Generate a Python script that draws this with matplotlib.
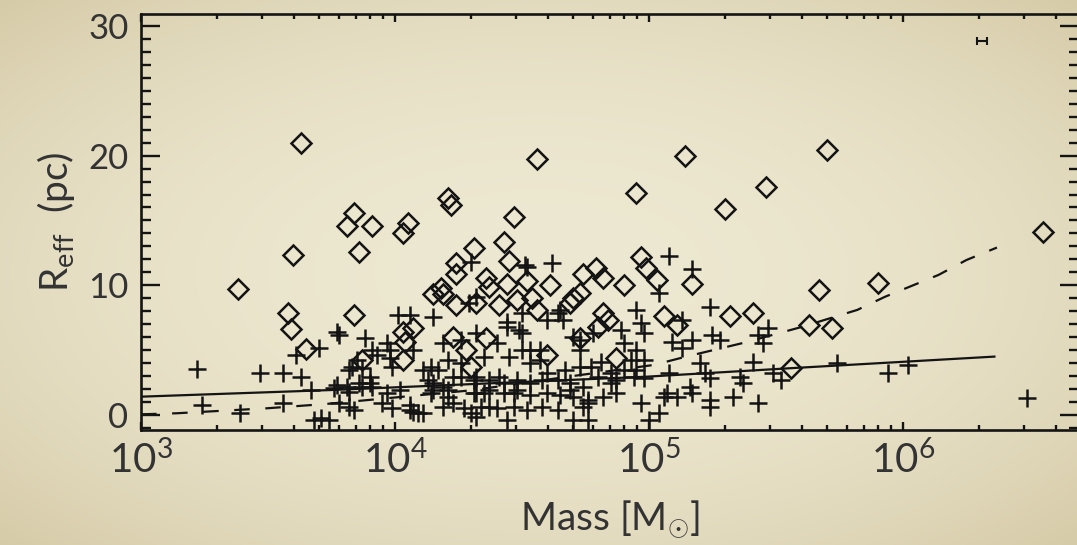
import numpy as np
import matplotlib
matplotlib.use("Agg")
import matplotlib.pyplot as plt
from matplotlib.ticker import FixedLocator, LogLocator, MultipleLocator, NullFormatter, FixedFormatter

# ---------------- data (log10 mass [Msun], effective radius [pc]) ----------------
diamond_logm = [3.63, 3.84, 3.81, 3.91, 3.60, 4.05, 4.03, 3.38, 4.56, 5.14,
                4.21, 4.22, 4.95, 4.47, 4.43, 4.31, 4.24, 4.24, 4.45, 4.36,
                4.52, 4.44, 4.61, 4.74, 4.79, 4.82, 4.97, 4.99, 5.03, 4.90,
                5.17, 4.18, 3.58, 3.59, 3.65, 3.84, 4.03, 4.07, 4.04, 3.87,
                4.03, 4.15, 4.19, 4.24, 4.32, 4.23, 4.28, 4.30, 4.37, 4.41,
                4.48, 4.54, 4.56, 4.70, 4.73, 4.82, 4.84, 4.73, 4.87, 4.60,
                5.06, 5.11, 5.32, 5.41, 5.67, 5.90, 5.63, 5.72, 5.56, 5.70,
                5.46, 5.30, 6.55, 4.69, 4.80, 4.36, 3.86]
diamond_reff = [21.0, 15.6, 14.6, 14.6, 12.3, 14.8, 14.0, 9.7, 19.7, 20.0,
                16.7, 16.2, 17.1, 15.3, 13.3, 12.9, 11.7, 10.9, 11.9, 10.6,
                10.3, 10.1, 10.0, 10.9, 11.3, 10.6, 12.2, 11.3, 10.4, 10.0,
                10.1, 9.8, 7.9, 6.6, 5.1, 7.7, 6.4, 6.7, 5.6, 4.2,
                4.2, 9.3, 9.3, 8.5, 8.6, 6.0, 5.0, 3.7, 9.9, 8.5,
                8.9, 9.0, 8.1, 9.0, 9.4, 7.9, 7.3, 5.9, 4.4, 4.6,
                7.6, 6.9, 7.6, 7.9, 9.6, 10.2, 6.9, 6.7, 3.6, 20.4,
                17.6, 15.9, 14.1, 8.6, 6.8, 5.9, 12.6]

plus_logm = [3.22, 3.47, 3.56, 3.63, 3.67, 3.61, 3.70, 3.77, 3.78, 3.24,
             3.39, 3.56, 3.68, 3.71, 3.74, 3.76, 3.88, 3.97, 4.01, 4.06,
             4.15, 4.07, 3.91, 3.98, 3.99, 3.82, 3.81, 3.86, 3.90, 3.95,
             3.78, 3.84, 4.06, 4.09, 4.15, 4.19, 4.21, 4.23, 4.26, 4.29,
             4.31, 4.35, 4.37, 4.41, 4.44, 4.47, 4.50, 4.52, 4.53, 4.57,
             4.60, 4.62, 4.60, 4.64, 4.67, 4.69, 4.70, 4.73, 4.76, 4.80,
             4.78, 3.93, 3.98, 3.83, 3.85, 3.87, 3.90, 3.77, 3.82, 3.87,
             3.91, 3.97, 4.02, 3.82, 3.99, 4.06, 4.07, 4.11, 4.11, 4.14,
             4.17, 4.21, 4.13, 4.15, 4.19, 4.14, 4.21, 4.23, 4.27, 4.30,
             4.31, 4.26, 4.19, 4.26, 4.32, 4.32, 4.50, 4.49, 4.65, 4.66,
             4.44, 4.40, 4.35, 4.45, 4.50, 4.53, 4.57, 4.70, 4.73, 4.73,
             4.77, 4.81, 4.85, 4.32, 4.37, 4.43, 4.48, 4.53, 4.58, 4.64,
             4.69, 4.74, 4.85, 4.32, 4.37, 4.43, 4.48, 4.53, 4.60, 4.65,
             4.70, 4.76, 4.82, 4.87, 4.34, 4.40, 4.47, 4.52, 4.58, 4.64,
             4.74, 4.76, 4.32, 4.44, 5.04, 5.24, 5.13, 4.95, 4.97, 4.89,
             4.98, 4.90, 5.09, 5.13, 5.17, 5.25, 5.28, 5.43, 5.41, 4.95,
             4.93, 4.98, 4.95, 4.90, 4.87, 4.94, 4.98, 5.08, 5.20, 5.22,
             5.24, 5.36, 5.37, 5.16, 5.07, 5.06, 5.11, 5.17, 5.24, 5.33,
             5.43, 4.97, 5.24, 5.04, 5.00, 5.47, 5.45, 5.49, 5.52, 5.74,
             5.94, 6.02, 6.49, 4.30, 4.51, 5.08, 5.17]
plus_reff = [3.55, 3.24, 3.24, 2.93, 1.93, 4.63, 5.17, 6.40, 6.17, 0.77,
             0.15, 0.93, -0.39, -0.23, -0.39, 2.08, 5.94, 5.55, 7.71, 7.71,
             7.56, 5.01, 5.01, 5.01, 3.70, 3.47, 2.16, 2.47, 2.47, 0.93,
             0.93, 0.39, 0.39, 0.15, 1.93, 0.62, 1.93, 2.93, 4.01, 8.64,
             1.70, 1.70, 0.62, 2.93, 6.78, 1.70, 6.32, 11.41, 5.01, 4.24,
             3.24, 11.72, 7.32, 7.86, 3.47, 1.93, -0.39, 5.01, 0.93, 2.93,
             6.32, 4.63, 4.39, 3.70, 4.24, 3.62, 2.93, 2.31, 1.77, 2.16,
             2.16, 1.70, 1.93, 0.62, 0.54, 0.77, 0.23, 0.15, 3.47, 3.70,
             3.47, 4.24, 2.70, 2.47, 2.16, 1.70, 1.39, 0.93, 0.54, 0.15,
             2.70, 2.93, 5.55, 5.78, 6.32, 9.10, 7.86, 6.55, 8.10, 7.32,
             7.17, 5.55, 4.47, 4.47, 5.01, 4.01, 5.01, 6.01, 5.78, 3.70,
             3.70, 4.09, 3.24, 2.93, 2.70, 2.47, 2.70, 2.47, 2.70, 2.70,
             2.47, 2.16, 2.47, 1.70, 1.93, 1.70, 1.93, 1.54, 1.70, 1.54,
             1.39, 1.16, 1.39, 1.70, 0.62, 0.54, 0.62, 0.39, 0.62, 0.39,
             0.62, -0.39, -0.15, -0.39, 9.41, 8.33, 7.32, 8.10, 7.09, 6.55,
             6.32, 5.55, 5.63, 5.17, 5.78, 6.17, 5.78, 6.17, 4.09, 5.01,
             4.24, 4.24, 3.47, 3.47, 2.70, 2.93, 2.85, 3.24, 4.01, 3.24,
             2.85, 2.93, 2.47, 2.16, 1.70, 1.39, 1.39, 1.70, 1.16, 1.39,
             0.93, 0.93, 0.62, 0.15, -0.39, 6.71, 5.55, 3.24, 2.70, 4.01,
             3.24, 3.86, 1.31, 11.80, 11.57, 12.26, 11.26]

# fitted relations
solid_fit_logm = [3.00, 3.76, 4.99, 5.57, 6.36]
solid_fit_reff = [1.41, 1.93, 2.95, 3.62, 4.50]
dashed_fit_logm = [3.00, 3.14, 3.50, 3.73, 4.30, 4.70, 5.02, 5.14, 5.37, 5.60,
                   5.82, 5.93, 6.14, 6.25, 6.37]
dashed_fit_reff = [0.05, 0.13, 0.52, 0.85, 1.90, 3.00, 3.86, 4.47, 5.55, 6.78,
                   8.10, 9.12, 10.80, 11.95, 12.91]

# typical error bar
errbar_logm = 6.31
errbar_reff = 28.8
errbar_dex = 0.02

xtick_exponents = [3, 4, 5, 6]
ytick_values = [0, 10, 20, 30]

# ---------------- style ----------------
plt.rcParams['font.family'] = ['Lato', 'DejaVu Sans']
plt.rcParams['mathtext.fontset'] = 'custom'
plt.rcParams['mathtext.rm'] = 'Lato'
plt.rcParams['mathtext.it'] = 'Lato:italic'
plt.rcParams['mathtext.bf'] = 'Lato:bold'
plt.rcParams['mathtext.sf'] = 'Lato'

W, H = 1077, 545
fig = plt.figure(figsize=(W / 100, H / 100), dpi=100)

# beige background with vignette (drawn in a background axes)
yy, xx = np.mgrid[0:H, 0:W]
r = np.sqrt(((xx - W / 2) / (W / 2)) ** 2 + ((yy - H / 2) / (H / 2)) ** 2) / np.sqrt(2)
w = np.clip(r, 0, 1) ** 2.2
c0 = np.array([237, 232, 209]) / 255.0
c1 = np.array([214, 203, 168]) / 255.0
bg = c0[None, None, :] * (1 - w[..., None]) + c1[None, None, :] * w[..., None]
bg_ax = fig.add_axes([0, 0, 1, 1], zorder=0)
bg_ax.imshow(bg, aspect='auto', interpolation='bilinear')
bg_ax.set_axis_off()

ink = '#141414'
txt = '#333333'

ax = fig.add_axes([141 / W, 115 / H, 938 / W, 416 / H], zorder=1)
ax.set_facecolor('none')
ax.set_xscale('log')
ax.set_xlim(1e3, 10 ** 6.693)
ax.set_ylim(-1.16, 30.92)

ax.plot(10 ** np.array(plus_logm), plus_reff, linestyle='none', marker='+',
        ms=13.5, mew=1.8, color=ink, zorder=3)
ax.plot(10 ** np.array(diamond_logm), diamond_reff, linestyle='none', marker='D',
        ms=10.3, mfc='none', mec=ink, mew=1.8, zorder=3)

ax.plot(10 ** np.array(solid_fit_logm), solid_fit_reff, color=ink, lw=1.6, zorder=4)
ax.plot(10 ** np.array(dashed_fit_logm), dashed_fit_reff, color=ink, lw=1.6,
        dashes=(7, 7), zorder=4)

m0 = 10 ** errbar_logm
ax.errorbar([m0], [errbar_reff],
            xerr=[[m0 - m0 * 10 ** (-errbar_dex)], [m0 * 10 ** errbar_dex - m0]],
            fmt='none', ecolor=ink, elinewidth=1.5, capsize=3, capthick=1.5, zorder=4)

# ticks
ax.xaxis.set_major_locator(FixedLocator([10.0 ** e for e in xtick_exponents]))
ax.xaxis.set_major_formatter(FixedFormatter([r'$\mathregular{10^{%d}}$' % e for e in xtick_exponents]))
ax.xaxis.set_minor_locator(LogLocator(base=10, subs=np.arange(2, 10), numticks=20))
ax.xaxis.set_minor_formatter(NullFormatter())
ax.yaxis.set_major_locator(FixedLocator(ytick_values))
ax.yaxis.set_minor_locator(MultipleLocator(1))

ax.tick_params(which='both', direction='in', top=True, right=True, width=1.7, color=ink)
ax.tick_params(axis='y', which='major', length=13.5, labelsize=25, pad=9, labelcolor=txt)
ax.tick_params(axis='y', which='minor', length=7)
ax.tick_params(axis='x', which='major', length=6, labelsize=29, pad=7, labelcolor=txt)
ax.tick_params(axis='x', which='minor', length=3.5)

for s in ax.spines.values():
    s.set_linewidth(1.9)
    s.set_color(ink)

ax.set_xlabel(r'Mass [M$_{\odot}$]', fontsize=28, color=txt, labelpad=13)
ax.set_ylabel(r'R$_{\mathregular{eff}}$  (pc)', fontsize=28, color=txt, labelpad=8)

fig.savefig('out.png', dpi=100)
